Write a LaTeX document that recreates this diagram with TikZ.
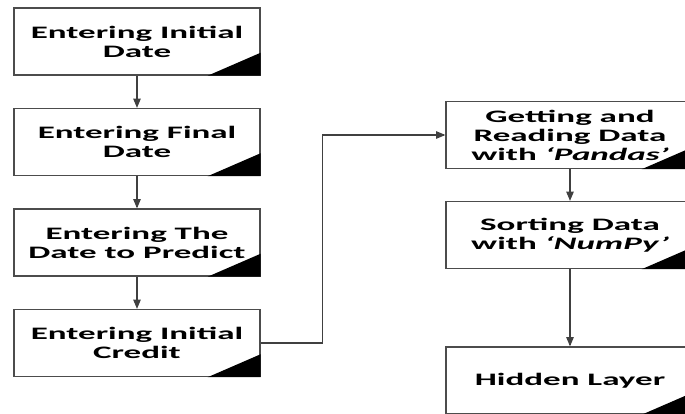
\documentclass[tikz,border=0pt]{standalone}
\usepackage{fontspec}
\setmainfont{Carlito}[FakeStretch=2.0]
\usetikzlibrary{arrows}
\tikzstyle{block} = [rectangle, minimum width=246pt, minimum height=67pt, align=center, inner sep=0pt, draw=black!70, line width=1.4pt, fill=white, font=\fontsize{17.5}{19}\selectfont\bfseries]
\tikzstyle{flow} = [draw=black!75, line width=1.1pt, ->, >=triangle 45]

\begin{document}
\begin{tikzpicture}[x=1pt,y=1pt]
\clip (0,0) rectangle (685,413);
% left column
\node[block] (initdate) at (137,371.5) {Entering Initial\\Date};
\node[block] (finaldate) at (137,271) {Entering Final\\Date};
\node[block] (preddate) at (137,170.5) {Entering The\\Date to Predict};
\node[block] (credit) at (137,70) {Entering Initial\\Credit};
% right column
\node[block, minimum width=248pt] (pandas) at (570,278) {Getting and\\Reading Data\\with \textit{‘Pandas’}};
\node[block, minimum width=248pt] (numpy) at (570,178) {Sorting Data\\with \textit{‘NumPy’}};
\node[block, minimum width=248pt] (hidden) at (570,32.5) {Hidden Layer};
% black corners
\foreach \b in {initdate,finaldate,preddate,credit,pandas,numpy,hidden}
  \fill (\b.south east) -- ++(-53,0) -- ++(53,23) -- cycle;
% connectors
\draw[flow] (initdate) -- (finaldate);
\draw[flow] (finaldate) -- (preddate);
\draw[flow] (preddate) -- (credit);
\draw[flow] (credit.east) -- ++(62,0) |- (pandas.west);
\draw[flow] (pandas) -- (numpy);
\draw[flow] (numpy) -- (hidden);
\end{tikzpicture}
\end{document}
